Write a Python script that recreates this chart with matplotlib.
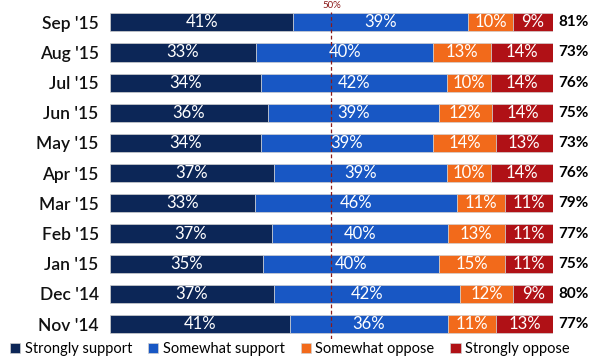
import numpy as np
import matplotlib.pyplot as plt

# data
months = ["Sep '15", "Aug '15", "Jul '15", "Jun '15", "May '15", "Apr '15",
          "Mar '15", "Feb '15", "Jan '15", "Dec '14", "Nov '14"]
strongly_support = [41, 33, 34, 36, 34, 37, 33, 37, 35, 37, 41]
somewhat_support = [39, 40, 42, 39, 39, 39, 46, 40, 40, 42, 36]
somewhat_oppose = [10, 13, 10, 12, 14, 10, 11, 13, 15, 12, 11]
strongly_oppose = [9, 14, 14, 14, 13, 14, 11, 11, 11, 9, 13]
total_support = ["81%", "73%", "76%", "75%", "73%", "76%", "79%", "77%", "75%", "80%", "77%"]

series_names = ["Strongly support", "Somewhat support", "Somewhat oppose", "Strongly oppose"]
colors = ["#0c2657", "#1857c4", "#f26a1b", "#b01116"]

plt.rcParams['font.family'] = ['Lato', 'DejaVu Sans']

data = np.array([strongly_support, somewhat_support, somewhat_oppose, strongly_oppose], dtype=float)
shares = data / data.sum(axis=0) * 100

fig = plt.figure(figsize=(6, 3.6), dpi=100)
ax = fig.add_axes([0.183, 0.058, 0.739, 0.922])

y = np.arange(len(months))
left = np.zeros(len(months))
for i in range(4):
    ax.barh(y, shares[i], left=left, height=0.6, color=colors[i],
            edgecolor="#d0d0d0", linewidth=0.5, label=series_names[i])
    for j in range(len(months)):
        ax.text(left[j] + shares[i][j] / 2, y[j], f"{int(data[i][j])}%",
                ha="center", va="center", color="white", fontsize=12)
    left += shares[i]

# 50% reference line
ax.axvline(50, color="#8b1a1a", linestyle=(0, (3, 2)), linewidth=0.9, ymin=0.0, ymax=0.985)
ax.text(50, -0.56, "50%", color="#8b1a1a", fontsize=7, ha="center", va="center")

# totals
for j in range(len(months)):
    ax.text(104.5, y[j], total_support[j], ha="center", va="center",
            fontsize=11, fontweight="bold", color="black")

ax.set_xlim(0, 100)
ax.set_ylim(10.5, -0.5)
ax.set_yticks(y)
ax.set_yticklabels(months, fontsize=12.5, color="#111111", fontweight="semibold")
ax.tick_params(axis="y", length=0, pad=8)
ax.set_xticks([])
for s in ax.spines.values():
    s.set_visible(False)

fig.legend(loc="lower left", bbox_to_anchor=(-0.005, -0.025), ncol=4, frameon=False,
           fontsize=10.5, handlelength=0.7, handleheight=0.7, handletextpad=0.3,
           columnspacing=1.1)

fig.savefig("out.png", dpi=100)
